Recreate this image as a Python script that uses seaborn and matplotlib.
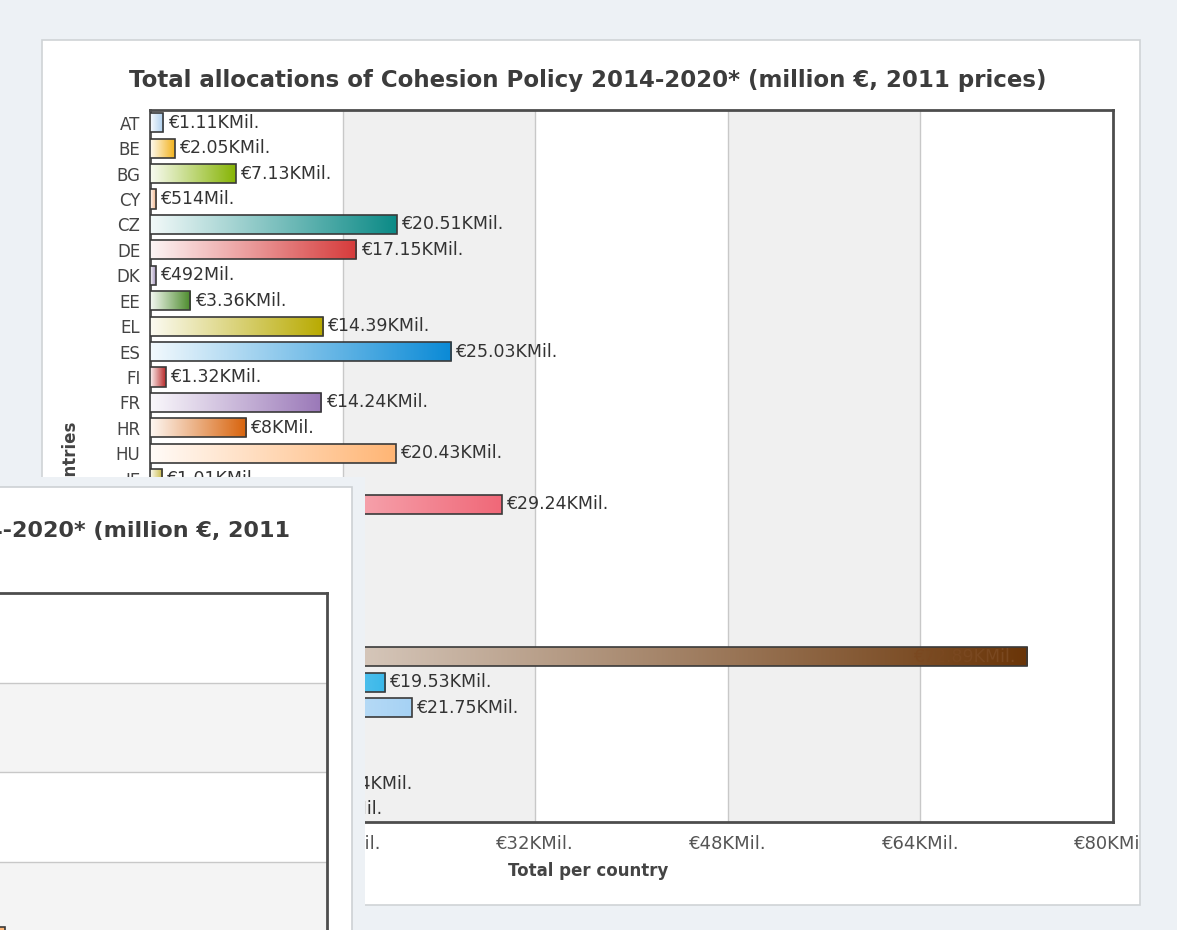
import numpy as np
import pandas as pd
import matplotlib
matplotlib.use("Agg")
import matplotlib.pyplot as plt
from matplotlib.patches import Rectangle
from matplotlib.transforms import Bbox, TransformedBbox
import matplotlib.colors as mcolors
import seaborn as sns

# ---------------- data ----------------
countries = ["AT", "BE", "BG", "CY", "CZ", "DE", "DK", "EE", "EL", "ES",
             "FI", "FR", "HR", "HU", "IE", "IT", "LT", "LU", "LV", "MT",
             "NL", "PL", "PT", "RO", "SE", "SI", "SK", "UK"]
# thousand million EUR (2011 prices)
values = [1.11, 2.05, 7.13, 0.514, 20.51, 17.15, 0.492, 3.36, 14.39, 25.03,
          1.32, 14.24, 8.0, 20.43, 1.01, 29.24, 6.09, 0.056, 4.01, 0.67,
          1.25, 72.89, 19.53, 21.75, 1.82, 2.87, 12.94, 10.47]
bar_colors = ["#a9cdee", "#f2b21c", "#86b404", "#f0a878", "#0b8a86", "#d63a3a",
              "#a090b8", "#4a8a2a", "#b8aa00", "#0a8ad6", "#b82828", "#9a78b8",
              "#d8620a", "#ffb574", "#c8b840", "#f06878", "#e0a030", "#8080c0",
              "#c04040", "#60a0a0", "#f08020", "#6a3508", "#3ab8ea", "#a6d2f4",
              "#7090c0", "#90c060", "#c0a0d0", "#a0a0a0"]
title = "Total allocations of Cohesion Policy 2014-2020* (million €, 2011 prices)"
x_title = "Total per country"
y_title = "Countries"
x_ticks = [0, 16, 32, 48, 64, 80]
x_tick_labels = ["€0", "€16KMil.", "€32KMil.", "€48KMil.", "€64KMil.", "€80KMil."]
inside_label_country = "PL"


def fmt(v):
    if v < 1:
        return f"€{round(v * 1000)}Mil."
    s = f"{v:.2f}".rstrip("0").rstrip(".")
    return f"€{s}KMil."


# ---------------- figure ----------------
W, H = 1177, 930
sns.set_theme(style="white")
plt.rcParams["font.family"] = ["DejaVu Sans"]
BG = "#edf1f5"
fig = plt.figure(figsize=(W / 100, H / 100), dpi=100)
fig.patch.set_facecolor(BG)


def fx(px):
    return px / W


def fy(py):
    return 1 - py / H


fig.add_artist(Rectangle((fx(42), fy(905)), (1140 - 42) / W, (905 - 40) / H,
                         transform=fig.transFigure, facecolor="white",
                         edgecolor="#cfd3d6", lw=1.2, zorder=-10))

df = pd.DataFrame({"country": countries, "value": values})
pal = dict(zip(countries, bar_colors))


def gradient_fill(ax, bar, color, horizontal=True):
    x0, y0 = bar.get_x(), bar.get_y()
    w, h = bar.get_width(), bar.get_height()
    rgb = np.array(mcolors.to_rgb(color))
    start = np.array([1.0, 1.0, 1.0]) * 0.95 + rgb * 0.05
    t = np.linspace(0, 1, 256)[:, None]
    arr = start * (1 - t) + rgb * t
    if horizontal:
        img = arr[None, :, :]
    else:
        img = arr[::-1][:, None, :]
    im = ax.imshow(img, extent=[x0, x0 + w, y0, y0 + h], aspect="auto",
                   zorder=3, interpolation="bilinear", origin="upper")
    im.set_clip_path(bar)
    bar.set_facecolor("none")
    bar.set_zorder(4)


# ---------------- main chart ----------------
ax = fig.add_axes([fx(150), fy(822), 963 / W, 712 / H])
ax.set_facecolor("white")
for lo in (16, 48):
    ax.axvspan(lo, lo + 16, color="#f0f0f0", zorder=0, lw=0)
for t in x_ticks[1:-1]:
    ax.axvline(t, color="#c8c8c8", lw=1, zorder=1)

sns.barplot(data=df, x="value", y="country", hue="country", palette=pal,
            legend=False, orient="h", width=0.75, ax=ax, saturation=1,
            edgecolor="#3a3a3a", linewidth=1.2, zorder=3)

for cont in ax.containers:
    for bar in cont:
        idx = int(round(bar.get_y() + bar.get_height() / 2))
        c = countries[idx]
        gradient_fill(ax, bar, pal[c], horizontal=True)
        if c == inside_label_country:
            ax.annotate(fmt(values[idx]), xy=(bar.get_x() + bar.get_width(), idx),
                        xytext=(-9, 0), textcoords="offset points", ha="right",
                        va="center", fontsize=12.5, color="#7a4820", zorder=6)
        else:
            ax.bar_label(cont, labels=[fmt(values[idx])], padding=3,
                         fontsize=12.5, color="#333333")

ax.set_xlim(0, 80)
ax.set_ylim(len(countries) - 0.5, -0.5)
ax.set_xticks(x_ticks, labels=x_tick_labels)
ax.tick_params(axis="x", length=0, pad=9, labelsize=13, labelcolor="#555555")
ax.tick_params(axis="y", length=0, pad=7, labelsize=12, labelcolor="#444444")
ax.set_ylabel("")
ax.set_xlabel(x_title, fontsize=12, fontweight="bold", color="#444444")
ax.xaxis.set_label_coords((588 - 150) / 963, -(862 - 822) / 712)
for s in ax.spines.values():
    s.set_visible(True)
    s.set_color("#4d4d4d")
    s.set_linewidth(2)

clip = TransformedBbox(Bbox([[0, 0], [fx(1140), 1]]), fig.transFigure)
for tk in ax.xaxis.get_major_ticks():
    tk.label1.set_clip_box(clip)
    tk.label1.set_clip_on(True)

fig.text(fx(70), fy(466), y_title, rotation=90, ha="center", va="center",
         fontsize=12, fontweight="bold", color="#444444")
fig.text(fx(588), fy(80), title, ha="center", va="center", fontsize=16.5,
         fontweight="bold", color="#3c3c3c")

# ---------------- overlapping second view ----------------
fig.add_artist(Rectangle((0, 0), fx(365), (930 - 477) / H, transform=fig.transFigure,
                         facecolor=BG, edgecolor="none", zorder=10))
fig.add_artist(Rectangle((fx(-600), fy(1000)), (352 + 600) / W, (1000 - 487) / H,
                         transform=fig.transFigure, facecolor="white",
                         edgecolor="#cdd1d4", lw=1.2, zorder=11))

order = df.sort_values("value", ascending=False)["country"].tolist()
ov = fig.add_axes([fx(-80.5), fy(1041), 407.5 / W, 448 / H], zorder=12)
ov.set_facecolor("white")
for lo in (16, 48):
    ov.axhspan(lo, lo + 16, color="#f4f4f4", zorder=0, lw=0)
for t in x_ticks[1:-1]:
    ov.axhline(t, color="#c8c8c8", lw=1, zorder=1)
sns.barplot(data=df, x="country", y="value", hue="country", order=order,
            hue_order=order, palette=pal, legend=False, width=0.75, ax=ov,
            saturation=1, edgecolor="#3a3a3a", linewidth=1.2, zorder=3)
for cont in ov.containers:
    for bar in cont:
        idx = int(round(bar.get_x() + bar.get_width() / 2))
        gradient_fill(ov, bar, pal[order[idx]], horizontal=False)
ov.set_ylim(0, 80)
ov.set_xlim(-0.5, len(order) - 0.5)
ov.set_yticks(x_ticks)
ov.set_xlabel("")
ov.set_ylabel("")
ov.tick_params(length=0, labelleft=False, labelbottom=False)
for s in ov.spines.values():
    s.set_visible(True)
    s.set_color("#4d4d4d")
    s.set_linewidth(2)

fig.text(fx(290), fy(521), title.replace(" prices)", "\nprices)"), ha="right",
         va="top", multialignment="center", fontsize=16, fontweight="bold",
         color="#3c3c3c", zorder=13)

fig.savefig("out.png", dpi=100, facecolor=BG)
